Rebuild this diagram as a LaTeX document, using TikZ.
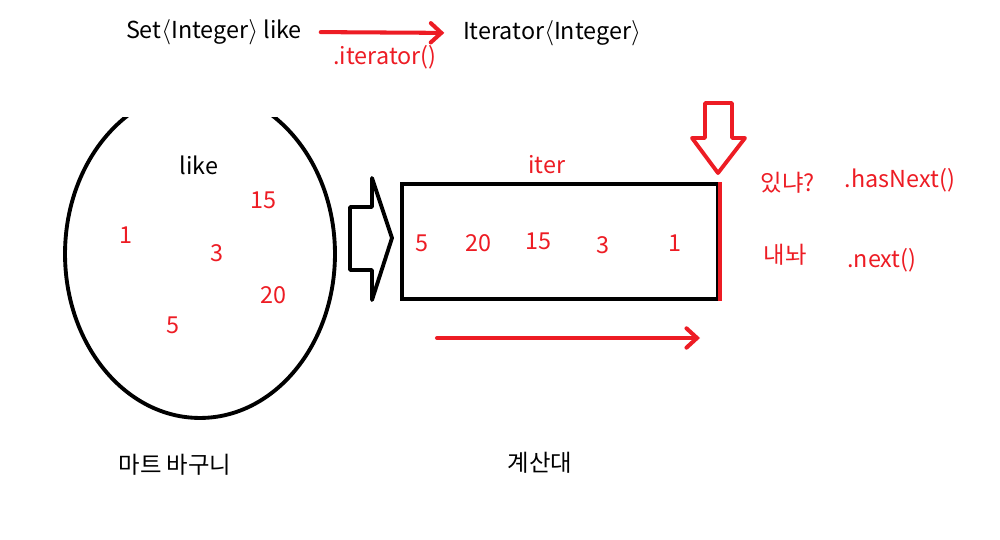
\documentclass[tikz,border=0pt]{standalone}
\usepackage{fontspec}
\setmainfont{Noto Sans CJK KR}
\usepackage{xcolor}
\definecolor{paintred}{HTML}{ed1c24}
\usepackage{tikz}
\usetikzlibrary{positioning}
\usetikzlibrary{arrows.meta}

\begin{document}
\begin{tikzpicture}[x=0.02cm, y=-0.02cm,
    every node/.style={font=\fontsize{13.3}{15}\selectfont, inner sep=1pt},
    num/.style={text=paintred},
    thickline/.style={line width=2.2pt},
    redarrow/.style={draw=paintred, line width=2.3pt, line cap=round,
      -{Straight Barb[length=6pt, width=11pt, line cap=round]}}]
    \useasboundingbox (0,0) rectangle (1000,540);

    \node (set) at (214,32) {Set$\langle$Integer$\rangle$ like};
    \node [anchor=west] (itr) at (461,33) {Iterator$\langle$Integer$\rangle$};
    \node [num] (call) at (385,57) {.iterator()};

    \begin{scope}
      \clip (0,118) rectangle (420,540);
      \draw [thickline] (200,254) ellipse [x radius=2.7cm, y radius=3.28cm];
    \end{scope}
    \node (like) at (199,165) {like};
    \node [num] (b1) at (126,235) {1};
    \node [num] (b15) at (263,200) {15};
    \node [num] (b3) at (217,253) {3};
    \node [num] (b20) at (273,295) {20};
    \node [num] (b5) at (173,325) {5};

    % block arrow into the counter
    \draw [thickline, line join=round] (350,207) -- (372,207) -- (372,178) -- (392,238)
      -- (372,300) -- (372,270) -- (350,270) -- cycle;

    \node [draw, thickline, minimum width=6.32cm, minimum height=2.3cm] (iter) at (560,241.5) {};
    \node [num] (iterlbl) at (547,165) {iter};
    \node [num] (c5) at (422,243) {5};
    \node [num] (c20) at (478,243) {20};
    \node [num] (c15) at (538,241) {15};
    \node [num] (c3) at (603,245) {3};
    \node [num] (c1) at (675,243) {1};
    \draw [paintred, line width=2.6pt] (iter.north east) -- (iter.south east);

    % cursor
    \draw [paintred, thickline, line join=round] (705,103) -- (732,103) -- (732,138) -- (745,138)
      -- (718,173) -- (692,138) -- (705,138) -- cycle;

    \node [num] (ask) at (788,183) {있냐?};
    \node [num] (hasnext) at (900,180) {.hasNext()};
    \node [num] (give) at (785,255) {내놔};
    \node [num] (next) at (882,260) {.next()};

    \node (cart) at (175,465) {마트 바구니};
    \node (counter) at (540,463) {계산대};

    \coordinate (runs) at (437,338);
    \coordinate (rune) at (700,338);

    \draw [redarrow, shorten <=9.5pt, shorten >=9.5pt] (set.east) -- (itr.west);
    \draw [redarrow] (runs) -- (rune);
\end{tikzpicture}
\end{document}
